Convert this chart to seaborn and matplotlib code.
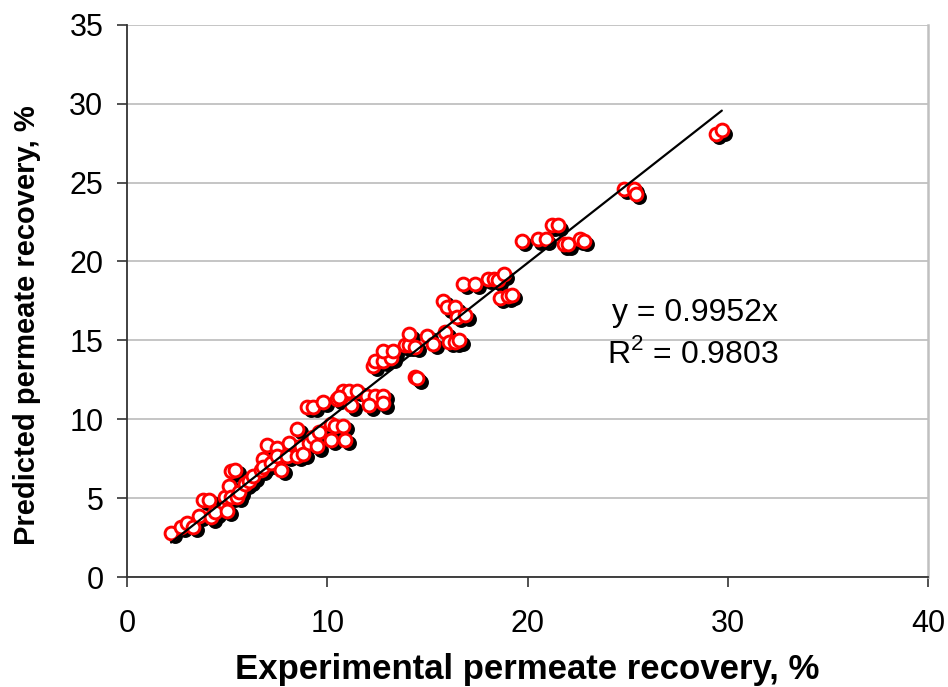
import matplotlib
matplotlib.use("Agg")
import matplotlib.pyplot as plt
import matplotlib.transforms as mtransforms
import numpy as np
import pandas as pd
import seaborn as sns

# experimental vs predicted permeate recovery, %
experimental = [
    2.2, 2.7, 3.0, 3.3, 3.6, 3.8, 4.1, 4.2, 4.4, 4.9, 5.0, 5.1, 5.2, 5.4,
    5.2, 5.5, 5.6, 5.9, 6.1, 6.3, 6.7, 6.8, 7.0, 6.8, 7.2, 7.5, 7.5, 7.7,
    8.0, 8.1, 8.5, 8.5, 8.7, 8.8, 9.0, 9.3, 9.1, 9.3, 9.6, 9.5, 10.2, 10.2,
    10.4, 10.8, 10.9, 9.8, 10.5, 10.8, 11.1, 11.5, 10.6, 12.0, 12.4, 12.8,
    11.2, 12.1, 12.8, 12.3, 12.4, 12.8, 13.2, 12.8, 13.3, 13.9, 14.1, 14.4,
    14.4, 14.5, 14.1, 15.0, 15.9, 15.3, 16.1, 16.4, 16.6, 15.8, 16.0, 16.4,
    16.5, 16.9, 16.8, 17.4, 18.0, 18.3, 18.5, 18.8, 18.6, 19.0, 19.2, 19.7,
    20.5, 20.9, 21.2, 21.5, 21.8, 22.0, 22.6, 22.8, 24.8, 25.3, 25.4,
    29.4, 29.7,
]
predicted = [
    2.8, 3.2, 3.4, 3.2, 3.9, 4.9, 4.9, 3.8, 4.1, 5.1, 4.2, 5.8, 6.7, 6.8,
    5.1, 5.1, 5.4, 5.9, 6.1, 6.4, 6.8, 7.5, 8.4, 7.0, 7.2, 8.2, 7.7, 6.8,
    7.7, 8.5, 9.4, 7.7, 8.3, 7.8, 10.8, 10.8, 8.5, 8.9, 9.2, 8.3, 9.7, 8.7,
    9.6, 9.6, 8.7, 11.1, 11.3, 11.8, 11.8, 11.8, 11.4, 11.5, 11.5, 11.5,
    10.9, 10.9, 11.0, 13.4, 13.7, 13.7, 13.9, 14.3, 14.3, 14.7, 14.7, 14.6,
    12.7, 12.6, 15.4, 15.3, 15.5, 14.8, 14.9, 14.9, 15.0, 17.5, 17.1, 17.1,
    16.5, 16.6, 18.6, 18.6, 18.9, 18.9, 18.8, 19.2, 17.7, 17.8, 17.9, 21.3,
    21.4, 21.4, 22.3, 22.3, 21.1, 21.1, 21.4, 21.3, 24.6, 24.6, 24.3,
    28.1, 28.3,
]
slope = 0.9952
r_squared = 0.9803

df = pd.DataFrame({"experimental": experimental, "predicted": predicted})
trend = pd.DataFrame({"x": [df["experimental"].min(), df["experimental"].max()]})
trend["y"] = slope * trend["x"]

sns.set_theme(style="white")
plt.rcParams["font.family"] = ["Liberation Sans", "DejaVu Sans"]
plt.rcParams["text.color"] = "black"
plt.rcParams["axes.labelcolor"] = "black"
plt.rcParams["mathtext.fontset"] = "custom"
plt.rcParams["mathtext.rm"] = "Liberation Sans"

fig = plt.figure(figsize=(9.48, 6.87), dpi=100)
ax = fig.add_axes([0.134, 0.160, 0.845, 0.804])

# drop shadow under the markers
shadow = ax.transData + mtransforms.ScaledTranslation(0.035, -0.035, fig.dpi_scale_trans)
sns.scatterplot(data=df, x="experimental", y="predicted", ax=ax, color="black",
                s=85, linewidth=1.5, edgecolor="black", transform=shadow,
                legend=False, zorder=2)
sns.scatterplot(data=df, x="experimental", y="predicted", ax=ax, color="white",
                s=85, linewidth=2.1, edgecolor="#ff0000", legend=False, zorder=3)
sns.lineplot(data=trend, x="x", y="y", ax=ax, color="black", linewidth=1.6, zorder=4)

ax.set_xlim(0, 40)
ax.set_ylim(0, 35)
ax.set_xticks([0, 10, 20, 30, 40])
ax.set_yticks(np.arange(0, 36, 5))
ax.yaxis.grid(True, color="#c0c0c0", linewidth=1.3)
ax.set_axisbelow(True)

for side in ["left", "bottom"]:
    ax.spines[side].set_color("#333333")
    ax.spines[side].set_linewidth(1.3)
ax.spines["right"].set_color("#c0c0c0")
ax.spines["right"].set_linewidth(1.8)
ax.spines["top"].set_visible(False)

ax.tick_params(axis="both", direction="out", length=7, width=1.2, color="#333333",
               labelsize=22, labelcolor="black")
ax.tick_params(axis="x", pad=16, bottom=True)
ax.tick_params(axis="y", pad=10, left=True)

ax.set_xlabel("Experimental permeate recovery, %", fontsize=25, fontweight="bold", labelpad=10)
ax.set_ylabel("Predicted permeate recovery, %", fontsize=21, fontweight="bold")
ax.yaxis.set_label_coords(-0.108, 0.456)

ax.text(0.709, 0.479, f"y = {slope}x", transform=ax.transAxes, fontsize=23,
        ha="center", va="center")
ax.text(0.706, 0.403, f"R$^2$ = {r_squared}", transform=ax.transAxes, fontsize=23,
        ha="center", va="center")

fig.savefig("out.png", dpi=100)
